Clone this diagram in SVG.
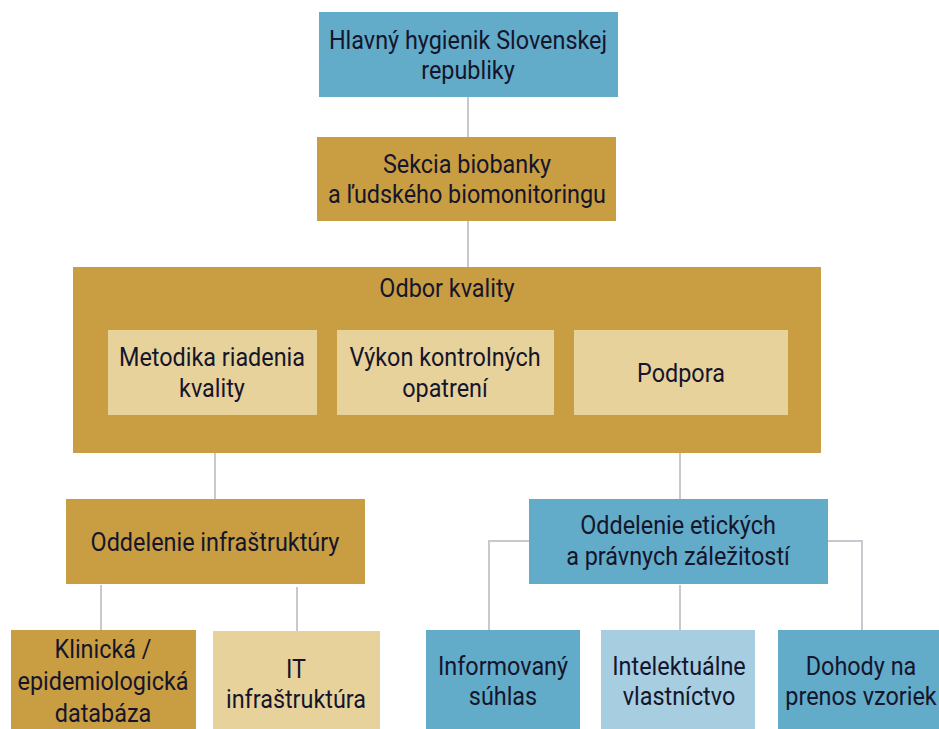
<svg xmlns="http://www.w3.org/2000/svg" width="939" height="729" viewBox="0 0 939 729">
<style>
.blue{fill:#62abc9}
.gold{fill:#c99d41}
.lgold{fill:#e8d29b}
.lblue{fill:#a6cde0}
.t{font-family:Roboto,"Liberation Sans",sans-serif;font-size:26px;fill:#15152b;text-anchor:middle}
.c{stroke:#c8c8ce;stroke-width:2;fill:none}
</style>
<rect width="939" height="729" fill="#ffffff"/>
<g id="connectors">
<path class="c" d="M468 97V137"/>
<path class="c" d="M468 221V267"/>
<path class="c" d="M215 453V499"/>
<path class="c" d="M680 453V499"/>
<path class="c" d="M101 585V630"/>
<path class="c" d="M297 587V631"/>
<path class="c" d="M529 541H489V630"/>
<path class="c" d="M828 541H862V630"/>
<path class="c" d="M680 585V630"/>
</g>
<g id="hlavny">
<rect class="blue" x="319" y="12" width="299" height="85"/>
<text class="t" transform="translate(468 0) scale(0.9 1)"><tspan x="0" y="49">Hlavný hygienik Slovenskej</tspan><tspan x="0" y="79">republiky</tspan></text>
</g>
<g id="sekcia">
<rect class="gold" x="317" y="137" width="299" height="84"/>
<text class="t" transform="translate(467 0) scale(0.9 1)"><tspan x="0" y="173">Sekcia biobanky</tspan><tspan x="0" y="203">a ľudského biomonitoringu</tspan></text>
</g>
<g id="odbor">
<rect class="gold" x="73" y="267" width="748" height="186"/>
<text class="t" transform="translate(447 0) scale(0.9 1)"><tspan x="0" y="297">Odbor kvality</tspan></text>
</g>
<g id="metodika">
<rect class="lgold" x="108" y="330" width="209" height="85"/>
<text class="t" transform="translate(212 0) scale(0.9 1)"><tspan x="0" y="366">Metodika riadenia</tspan><tspan x="0" y="397">kvality</tspan></text>
</g>
<g id="vykon">
<rect class="lgold" x="337" y="330" width="217" height="85"/>
<text class="t" transform="translate(445 0) scale(0.9 1)"><tspan x="0" y="366">Výkon kontrolných</tspan><tspan x="0" y="397">opatrení</tspan></text>
</g>
<g id="podpora">
<rect class="lgold" x="574" y="330" width="214" height="85"/>
<text class="t" transform="translate(681 0) scale(0.9 1)"><tspan x="0" y="382">Podpora</tspan></text>
</g>
<g id="infra">
<rect class="gold" x="66" y="499" width="299" height="85"/>
<text class="t" transform="translate(215 0) scale(0.9 1)"><tspan x="0" y="551">Oddelenie infraštruktúry</tspan></text>
</g>
<g id="eticke">
<rect class="blue" x="529" y="499" width="299" height="85"/>
<text class="t" transform="translate(678 0) scale(0.9 1)"><tspan x="0" y="534">Oddelenie etických</tspan><tspan x="0" y="565">a právnych záležitostí</tspan></text>
</g>
<g id="klinicka">
<rect class="gold" x="11" y="630" width="185" height="99"/>
<text class="t" transform="translate(103 0) scale(0.9 1)"><tspan x="0" y="658">Klinická /</tspan><tspan x="0" y="690">epidemiologická</tspan><tspan x="0" y="722">databáza</tspan></text>
</g>
<g id="it">
<rect class="lgold" x="213" y="631" width="167" height="98"/>
<text class="t" transform="translate(296 0) scale(0.9 1)"><tspan x="0" y="678">IT</tspan><tspan x="0" y="708">infraštruktúra</tspan></text>
</g>
<g id="informovany">
<rect class="blue" x="426" y="630" width="154" height="99"/>
<text class="t" transform="translate(503 0) scale(0.9 1)"><tspan x="0" y="675">Informovaný</tspan><tspan x="0" y="705">súhlas</tspan></text>
</g>
<g id="intelektualne">
<rect class="lblue" x="601" y="630" width="154" height="99"/>
<text class="t" transform="translate(679 0) scale(0.9 1)"><tspan x="0" y="675">Intelektuálne</tspan><tspan x="0" y="705">vlastníctvo</tspan></text>
</g>
<g id="dohody">
<rect class="blue" x="778" y="630" width="161" height="99"/>
<text class="t" transform="translate(861 0) scale(0.9 1)"><tspan x="0" y="675">Dohody na</tspan><tspan x="0" y="705">prenos vzoriek</tspan></text>
</g>
</svg>
